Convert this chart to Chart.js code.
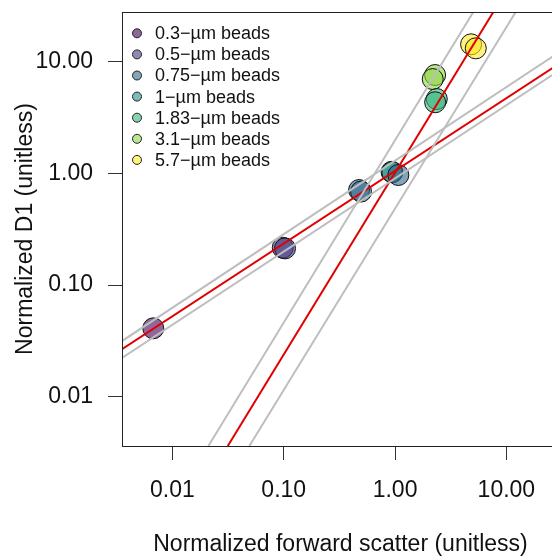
<!DOCTYPE html>
<html>
<head>
<meta charset="utf-8">
<script src="https://cdn.jsdelivr.net/npm/chart.js@4/dist/chart.umd.min.js"></script>
<style>
  html, body { margin: 0; padding: 0; overflow: hidden; background: #fff; }
</style>
</head>
<body>
<canvas id="beads" width="560" height="556"></canvas>
<script>
// bead sizes (legend order)
var beadLabels = ['0.3\u2212\u00b5m beads', '0.5\u2212\u00b5m beads', '0.75\u2212\u00b5m beads',
                  '1\u2212\u00b5m beads', '1.83\u2212\u00b5m beads', '3.1\u2212\u00b5m beads', '5.7\u2212\u00b5m beads'];
var beadColors = ['68,1,84', '68,58,131', '49,104,142', '33,144,140', '53,183,121', '143,215,68', '253,231,37'];

// normalized forward scatter / normalized D1, one list per bead size
var beadFsc = [[0.00673], [0.098, 0.1027], [0.475, 0.495, 1.07], [0.93, 0.945], [2.37, 2.29], [2.29, 2.18], [4.82, 5.31]];
var beadD1  = [[0.0411], [0.216, 0.213], [0.709, 0.687, 0.966], [1.03, 1.025], [4.62, 4.32], [7.57, 6.97], [14.25, 13.12]];

// fit lines (gray = bounds, red = fit), ends read at the plot frame
var fitX = [[0.003524, 29.7], [0.003524, 29.7], [0.02104, 5.047], [0.04909, 12.13], [0.003524, 29.7], [0.03141, 7.638]];
var fitY = [[0.0316, 12.11], [0.02228, 8.30], [0.00364, 27.73], [0.00364, 27.73], [0.02679, 9.53], [0.00364, 27.73]];
var fitColors = ['#bebebe', '#bebebe', '#bebebe', '#bebebe', '#e00000', '#e00000'];

var tickVals = [0.01, 0.1, 1, 10];
var axisFont = {family: '"Liberation Sans", Arial, sans-serif', size: 23};

var datasets = [];
for (var i = 0; i < fitX.length; i++) {
  datasets.push({
    data: fitX[i].map(function(x, j){ return {x: x, y: fitY[i][j]}; }),
    showLine: true, borderColor: fitColors[i], borderWidth: 2,
    pointRadius: 0, order: 0
  });
}
for (var b = 0; b < beadLabels.length; b++) {
  datasets.push({
    label: beadLabels[b],
    data: beadFsc[b].map(function(x, j){ return {x: x, y: beadD1[b][j]}; }),
    backgroundColor: 'rgba(' + beadColors[b] + ',0.6)',
    borderColor: '#111', borderWidth: 1,
    pointRadius: 10.5, pointHoverRadius: 10.5, order: 1
  });
}

// frame + legend drawn inside the plot
var framePlugin = {
  id: 'frame',
  afterDraw: function(chart){
    var ctx = chart.ctx, a = chart.chartArea;
    ctx.save();
    ctx.strokeStyle = '#222'; ctx.lineWidth = 1;
    ctx.strokeRect(Math.round(a.left) + 0.5, Math.round(a.top) + 0.5, a.right - a.left, a.bottom - a.top);
    ctx.font = '18px "Liberation Sans", Arial, sans-serif';
    ctx.textBaseline = 'middle';
    for (var k = 0; k < beadLabels.length; k++) {
      var y = 33.3 + k * 21.1;
      ctx.beginPath();
      ctx.arc(137, y, 4.5, 0, Math.PI * 2);
      ctx.fillStyle = 'rgba(' + beadColors[k] + ',0.6)';
      ctx.fill();
      ctx.stroke();
      ctx.fillStyle = '#111';
      ctx.fillText(beadLabels[k], 155, y + 1);
    }
    ctx.restore();
  }
};

function logAxis(min, max, titleText, isX){
  return {
    type: 'logarithmic', min: min, max: max,
    afterBuildTicks: function(scale){ scale.ticks = tickVals.map(function(v){ return {value: v}; }); },
    afterFit: function(scale){
      if (isX) scale.height = 110; else scale.width = 122;
      scale.paddingTop = 0; scale.paddingBottom = 0;
      scale.paddingLeft = 0; scale.paddingRight = 0;
    },
    ticks: {
      autoSkip: false, maxRotation: 0, color: '#111', font: axisFont,
      padding: isX ? 17 : 15,
      callback: function(v){ return Number(v).toFixed(2); }
    },
    grid: {drawOnChartArea: false, drawTicks: true, tickLength: 14, color: '#333', lineWidth: 1},
    border: {display: false},
    title: {
      display: true, text: titleText, color: '#111',
      font: {family: axisFont.family, size: 23, lineHeight: 1},
      padding: isX ? {top: 0, bottom: 0} : {top: 14, bottom: 0}
    }
  };
}

var myChart = new Chart(document.getElementById('beads').getContext('2d'), {
  type: 'scatter',
  data: {datasets: datasets},
  options: {
    responsive: false, animation: false,
    layout: {autoPadding: false, padding: {top: 12, right: 1, left: 0, bottom: 0}},
    plugins: {legend: {display: false}, tooltip: {enabled: false}},
    scales: {
      x: logAxis(0.003524, 29.7, 'Normalized forward scatter (unitless)', true),
      y: logAxis(0.00364, 27.73, 'Normalized D1 (unitless)', false)
    }
  },
  plugins: [framePlugin]
});
</script>
</body>
</html>
